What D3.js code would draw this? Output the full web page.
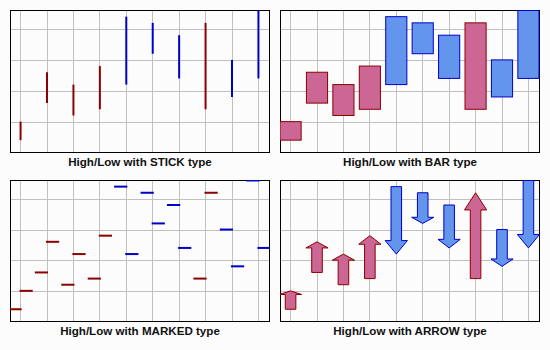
<!DOCTYPE html>
<html>
<head>
<meta charset="utf-8">
<script src="https://cdn.jsdelivr.net/npm/d3@7"></script>
<style>
  html, body { margin: 0; padding: 0; background: #fcfcfc; }
  svg { display: block; }
</style>
</head>
<body>
<svg id="chart" width="550" height="350"></svg>
<script>
// Ten periods, each with a starting and an ending value
const categories = ["1", "2", "3", "4", "5", "6", "7", "8", "9", "10"];
const openValues = [4, 16, 12, 14, 44, 42, 38, 14, 30, 46];
const closeValues = [10, 26, 22, 28, 22, 32, 24, 42, 18, 24];
const panelTitles = [
  "High/Low with STICK type",
  "High/Low with BAR type",
  "High/Low with MARKED type",
  "High/Low with ARROW type"
];
const panelTypes = ["stick", "bar", "marked", "arrow"];

const rows = categories.map((c, i) => ({
  cat: c,
  open: openValues[i],
  close: closeValues[i],
  up: closeValues[i] >= openValues[i]
}));

const UP_FILL = "#cc6694", UP_STROKE = "#8b0000";
const DOWN_FILL = "#6495ed", DOWN_STROKE = "#0000c8";

const svg = d3.select("#chart");
svg.append("rect").attr("width", 550).attr("height", 350).attr("fill", "#fcfcfc");

const colX = [10, 280];
const rowY = [10, 180];
const rowH = [142, 141];
const plotW = 259;

const yMax = d3.max(rows, d => Math.max(d.open, d.close));

panelTypes.forEach((type, p) => {
  const x0 = colX[p % 2];
  const y0 = rowY[Math.floor(p / 2)];
  const h = rowH[Math.floor(p / 2)];

  const x = d3.scalePoint().domain(categories).range([x0, x0 + plotW]).padding(0.4);
  const y = d3.scaleLinear().domain([0, yMax]).range([y0 + h + 0.5, y0 + 0.5]);
  const step = x.step();

  const g = svg.append("g");
  const clipId = "clip" + p;
  svg.append("clipPath").attr("id", clipId)
    .append("rect").attr("x", x0).attr("y", y0).attr("width", plotW + 1).attr("height", h + 1);

  // grid
  g.append("g").selectAll("line").data(categories).join("line")
    .attr("x1", d => Math.floor(x(d)) + 0.5).attr("x2", d => Math.floor(x(d)) + 0.5)
    .attr("y1", y0).attr("y2", y0 + h)
    .attr("stroke", "#c0c0c0").attr("stroke-width", 1);
  g.append("g").selectAll("line").data(y.ticks(5).filter(t => t > 0)).join("line")
    .attr("x1", x0).attr("x2", x0 + plotW)
    .attr("y1", d => Math.round(y(d)) + 0.5).attr("y2", d => Math.round(y(d)) + 0.5)
    .attr("stroke", "#c0c0c0").attr("stroke-width", 1);

  // frame
  g.append("rect")
    .attr("x", x0 + 0.5).attr("y", y0 + 0.5)
    .attr("width", plotW).attr("height", h)
    .attr("fill", "none").attr("stroke", "#000").attr("stroke-width", 1);

  const marks = g.append("g").attr("clip-path", `url(#${clipId})`);

  if (type === "stick") {
    marks.selectAll("line").data(rows).join("line")
      .attr("x1", d => x(d.cat)).attr("x2", d => x(d.cat))
      .attr("y1", d => y(d.open)).attr("y2", d => y(d.close))
      .attr("stroke", d => d.up ? UP_STROKE : DOWN_STROKE)
      .attr("stroke-width", 2);
  } else if (type === "bar") {
    const bw = step * 0.8;
    marks.selectAll("rect").data(rows).join("rect")
      .attr("x", d => x(d.cat) - bw / 2)
      .attr("y", d => y(Math.max(d.open, d.close)))
      .attr("width", bw)
      .attr("height", d => Math.abs(y(d.open) - y(d.close)))
      .attr("fill", d => d.up ? UP_FILL : DOWN_FILL)
      .attr("stroke", d => d.up ? UP_STROKE : DOWN_STROKE)
      .attr("stroke-width", 1);
  } else if (type === "marked") {
    const tl = step * 0.5;
    const ov = step * 0.04;
    const ticks = rows.flatMap(d => [
      { x1: x(d.cat) - tl + ov, x2: x(d.cat) + ov, v: d.open, up: d.up },
      { x1: x(d.cat) - ov, x2: x(d.cat) + tl - ov, v: d.close, up: d.up }
    ]);
    marks.selectAll("line").data(ticks).join("line")
      .attr("x1", d => d.x1).attr("x2", d => d.x2)
      .attr("y1", d => y(d.v)).attr("y2", d => y(d.v))
      .attr("stroke", d => d.up ? UP_STROKE : DOWN_STROKE)
      .attr("stroke-width", 2);
  } else if (type === "arrow") {
    const sw = step * 0.2;
    const hw = step * 0.42;
    const arrowPath = d => {
      const cx = x(d.cat);
      const ys = y(d.open), ye = y(d.close);
      const hb = ye + (ys - ye) * 0.2;
      return d3.line()([
        [cx - sw, ys], [cx - sw, hb], [cx - hw, hb], [cx, ye],
        [cx + hw, hb], [cx + sw, hb], [cx + sw, ys]
      ]) + "Z";
    };
    marks.selectAll("path").data(rows).join("path")
      .attr("d", arrowPath)
      .attr("fill", d => d.up ? UP_FILL : DOWN_FILL)
      .attr("stroke", d => d.up ? UP_STROKE : DOWN_STROKE)
      .attr("stroke-width", 1)
      .attr("stroke-linejoin", "miter");
  }

  svg.append("text")
    .attr("x", x0 + plotW / 2 + 0.5)
    .attr("y", y0 + h + 14)
    .attr("text-anchor", "middle")
    .attr("font-family", "'Liberation Sans', Arial, sans-serif")
    .attr("font-weight", "bold")
    .attr("font-size", 11.6)
    .attr("fill", "#111")
    .text(panelTitles[p]);
});
</script>
</body>
</html>
